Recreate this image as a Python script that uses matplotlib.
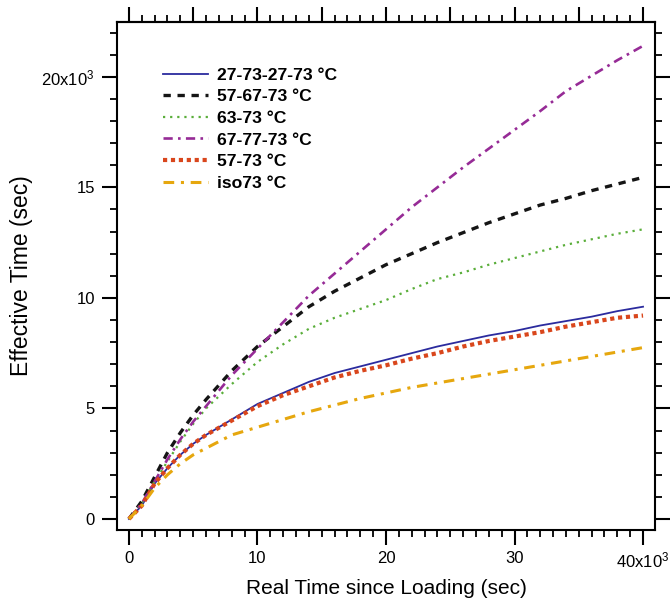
import matplotlib
matplotlib.use("Agg")
import matplotlib.pyplot as plt
from matplotlib.ticker import MultipleLocator, FixedLocator, NullFormatter

plt.rcParams['font.family'] = ['Liberation Sans', 'DejaVu Sans']
plt.rcParams['mathtext.fontset'] = 'custom'
plt.rcParams['mathtext.rm'] = 'Liberation Sans'
plt.rcParams['mathtext.it'] = 'Liberation Sans'

# Real time since loading (sec)
real_time = [0, 1000, 2000, 3000, 4000, 5000, 6000, 8000, 10000, 12000, 14000,
             16000, 18000, 20000, 22000, 24000, 26000, 28000, 30000, 32000,
             34000, 36000, 38000, 40000]

# Effective time (sec) for each thermal history
eff_27_73_27_73 = [0, 600, 1600, 2300, 2900, 3400, 3800, 4500, 5200, 5700, 6200,
                   6600, 6900, 7200, 7500, 7800, 8050, 8300, 8500, 8750,
                   8950, 9150, 9400, 9600]
eff_57_67_73 = [0, 800, 1900, 3000, 3900, 4700, 5400, 6700, 7800, 8700, 9600,
                10300, 10900, 11500, 12000, 12500, 12950, 13400, 13800, 14200,
                14500, 14850, 15150, 15450]
eff_63_73 = [0, 700, 1700, 2600, 3500, 4300, 5000, 6100, 7100, 7900, 8600,
             9100, 9500, 9900, 10400, 10850, 11150, 11500, 11800, 12100,
             12400, 12650, 12900, 13100]
eff_67_77_73 = [0, 700, 1700, 2700, 3600, 4400, 5100, 6500, 7700, 8900, 10100,
                11100, 12100, 13100, 14100, 15000, 15900, 16750, 17600, 18450,
                19350, 20050, 20750, 21400]
eff_57_73 = [0, 600, 1600, 2300, 2900, 3400, 3800, 4450, 5100, 5600, 6000,
             6400, 6700, 6950, 7250, 7500, 7800, 8050, 8250, 8450,
             8700, 8900, 9100, 9200]
eff_iso73 = [0, 600, 1400, 2000, 2500, 2900, 3200, 3800, 4150, 4500, 4850,
             5150, 5450, 5700, 5950, 6150, 6350, 6550, 6750, 6950,
             7150, 7350, 7550, 7750]

labels = ['27-73-27-73 °C', '57-67-73 °C', '63-73 °C', '67-77-73 °C', '57-73 °C', 'iso73 °C']

x_ticks = [0, 10000, 20000, 30000, 40000]
x_ticklabels = ['0', '10', '20', '30', r'40x10$^3$']
y_ticks = [0, 5000, 10000, 15000, 20000]
y_ticklabels = ['0', '5', '10', '15', r'20x10$^3$']

fig = plt.figure(figsize=(6.7, 6.02), dpi=100)
ax = fig.add_axes([0.1746, 0.1196, 0.8030, 0.8439])

ax.plot(real_time, eff_27_73_27_73, color='#2B2B9E', lw=1.3, ls='-', label=labels[0])
ax.plot(real_time, eff_57_67_73, color='#151515', lw=2.4, ls=(0, (2.2, 2.0)), label=labels[1])
ax.plot(real_time, eff_63_73, color='#5AAE3A', lw=1.6, ls=(0, (1, 2.2)), label=labels[2])
ax.plot(real_time, eff_67_77_73, color='#962B96', lw=1.9, ls=(0, (3.5, 2, 1, 2)), label=labels[3])
ax.plot(real_time, eff_57_73, color='#D9461C', lw=3.0, ls=(0, (1, 0.9)), label=labels[4])
ax.plot(real_time, eff_iso73, color='#E6A70E', lw=2.2, ls=(0, (3.5, 2.2, 1, 2.2)), label=labels[5])

ax.set_xlim(-930, 40930)
ax.set_ylim(-500, 22480)

ax.xaxis.set_major_locator(FixedLocator(x_ticks))
ax.set_xticklabels(x_ticklabels)
ax.xaxis.set_minor_locator(MultipleLocator(1000))
ax.yaxis.set_major_locator(FixedLocator(y_ticks))
ax.set_yticklabels(y_ticklabels)
ax.yaxis.set_minor_locator(MultipleLocator(1000))

for s in ax.spines.values():
    s.set_linewidth(1.5)

ax.tick_params(which='major', direction='out', length=11, width=1.5,
               labelsize=12, right=True, top=False)
ax.tick_params(which='minor', direction='out', length=5, width=1.3,
               right=True, top=False)
ax.tick_params(axis='y', which='major', pad=5)
ax.tick_params(axis='x', which='major', pad=4)

# top axis: major every 5k, minor every 1k, no labels
top = ax.secondary_xaxis('top')
top.xaxis.set_major_locator(MultipleLocator(5000))
top.xaxis.set_minor_locator(MultipleLocator(1000))
top.xaxis.set_major_formatter(NullFormatter())
top.tick_params(which='major', direction='out', length=11, width=1.5)
top.tick_params(which='minor', direction='out', length=5, width=1.3)
top.spines['top'].set_linewidth(1.5)

ax.set_xlabel('Real Time since Loading (sec)', fontsize=15, labelpad=6)
ax.set_ylabel('Effective Time (sec)', fontsize=16.5, labelpad=6)

leg = ax.legend(loc='upper left', bbox_to_anchor=(0.085, 0.910), frameon=False,
                fontsize=12.6, handlelength=2.6, handletextpad=0.5,
                labelspacing=0.36, borderaxespad=0, borderpad=0)
for t in leg.get_texts():
    t.set_fontweight('bold')

fig.savefig('out.png', dpi=100)
